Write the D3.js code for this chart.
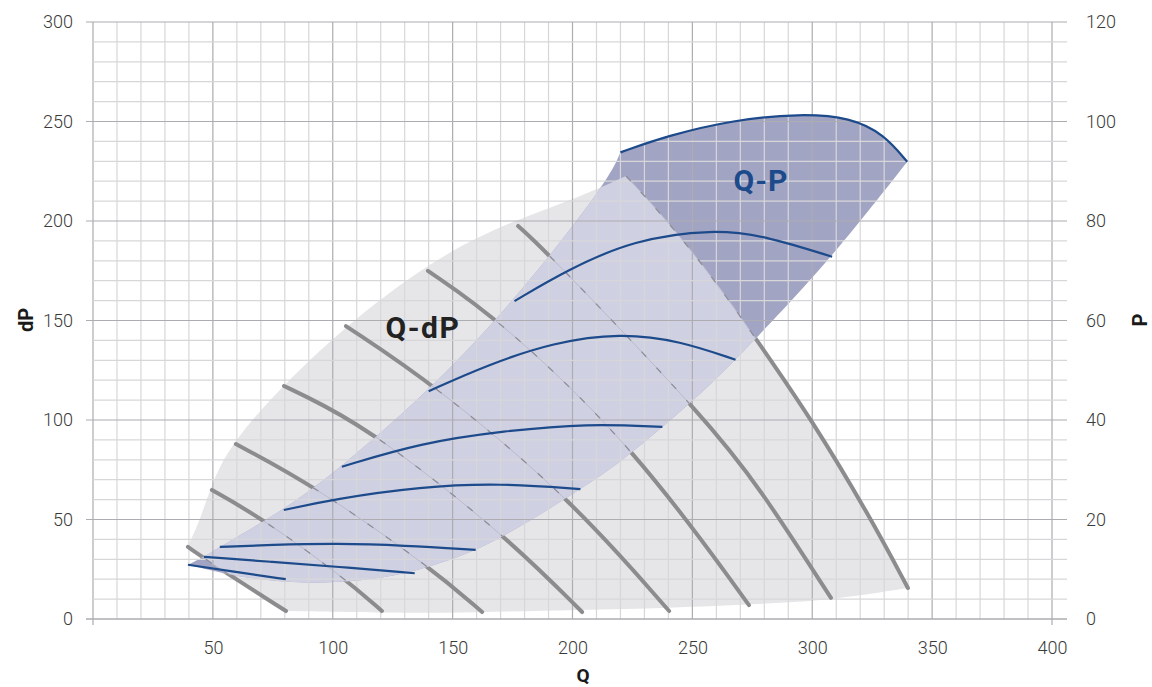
<!DOCTYPE html>
<html>
<head>
<meta charset="utf-8">
<title>Q-dP / Q-P</title>
<style>
  body { margin:0; background:#fff; }
  svg text { font-family: Roboto, "Open Sans", sans-serif; }
</style>
</head>
<body>
<div id="chart"></div>
<script src="https://cdn.jsdelivr.net/npm/d3@7"></script>
<script>
// tick labels
var qTicks  = [50, 100, 150, 200, 250, 300, 350, 400];
var dpTicks = [0, 50, 100, 150, 200, 250, 300];
var pTicks  = [0, 20, 40, 60, 80, 100, 120];

// Q-dP curves (grey), dP against left axis
var dpLinesQ = [
  [39.6, 51.7, 80.5],
  [49.6, 70.9, 104.3, 120.5],
  [59.6, 91.8, 140.6, 162.3],
  [79.7, 94.7, 119.7, 171.8, 204],
  [105.5, 142.6, 199, 240.3],
  [139.7, 169.8, 226.1, 273.6],
  [177.3, 190.6, 256.1, 278.2, 307.8],
  [222.3, 239.4, 260.3, 277.4, 299.9, 324.1, 339.9]
];
var dpLinesVal = [
  [36.2, 26.1, 4.0],
  [64.8, 50.3, 21.1, 4.0],
  [87.9, 67.3, 26.1, 3.5],
  [117.1, 108.5, 91.5, 42.2, 3.5],
  [147.2, 117.6, 60.8, 4.0],
  [174.9, 150.3, 85.9, 7.0],
  [197.5, 182.9, 100, 65.8, 10.6],
  [222.6, 200.5, 168.8, 139.2, 100, 51.3, 15.6]
];

// Q-dP envelope: upper/left edge and bottom edge
var envTopQ  = [39.6, 41.3, 44.6, 50.1, 58.4, 86.3, 119.7, 147.7, 173.9, 200.2, 222.3];
var envTopDP = [36.2, 41.2, 49.7, 69.8, 90.0, 126.6, 161.3, 184.4, 199.5, 210.6, 222.6];
var envBottomQ  = [339.9, 307.8, 278.2, 240, 203.3, 160, 120.5, 80.5];
var envBottomDP = [15.6, 9.5, 7.5, 5.5, 4.5, 3.3, 3.0, 4.0];

// Q-P curves (blue), P against right axis
var pLinesQ = [
  [220, 240, 267, 295, 316, 330, 339.6],
  [175.8, 197.9, 225.4, 258.8, 281.3, 308.3],
  [140, 164.6, 192.1, 220, 245, 268],
  [103.8, 136.7, 171.3, 206.3, 237.5],
  [79.6, 100.4, 136.7, 170, 203.3],
  [52.9, 74.2, 102, 129.6, 159.6],
  [46.3, 74.2, 102, 134.2],
  [39.6, 60.4, 80.4]
];
var pLinesVal = [
  [93.8, 97.2, 100.3, 101.6, 100.8, 97.4, 91.9],
  [63.9, 70.2, 76.2, 78.4, 76.9, 72.8],
  [45.8, 51.1, 55.6, 57.5, 55.9, 52.1],
  [30.6, 35.4, 37.8, 39.3, 38.6],
  [21.9, 24.1, 26.6, 27.3, 26.1],
  [14.5, 14.9, 15.2, 14.8, 13.9],
  [12.5, 11.5, 10.5, 9.2],
  [10.9, 9.4, 8.0]
];

// Q-P area: left edge (bottom->top) and right/bottom edge (top->bottom-left)
var qpLeftQ = [39.6, 46.3, 52.9, 79.6, 103.8, 140, 175.8, 214.6, 220];
var qpLeftP = [10.9, 12.5, 14.5, 21.9, 30.6, 45.8, 63.9, 87.8, 93.8];
var qpRightQ = [339.6, 308.3, 283.8, 268, 253, 237.5, 220, 203.3, 185, 172, 157.5, 136.7, 115.8, 95, 81.3, 60.4, 39.6];
var qpRightP = [91.9, 72.8, 60.1, 52.1, 45, 38.6, 31.5, 26.1, 20.5, 16.9, 13.3, 9.8, 7.8, 7.2, 7.4, 8.4, 10.9];

var width = 1152, height = 687;

var svg = d3.select('#chart').append('svg')
    .attr('width', width).attr('height', height);

var x  = d3.scaleLinear().domain([0, 400]).range([93, 1052]);
var yL = d3.scaleLinear().domain([0, 300]).range([619, 22]);
var yR = d3.scaleLinear().domain([0, 120]).range([619, 22]);

var curve = d3.line().curve(d3.curveBasis);
function seg(qs, vs, y){ return curve(qs.map(function(q,i){ return [x(q), y(vs[i])]; })); }
function join(parts){ return parts.map(function(p,i){ return i ? 'L' + p.slice(1) : p; }).join('') + 'Z'; }
function rev(a){ return a.slice().reverse(); }

var L1 = 0, L8 = dpLinesQ.length - 1;
var envPath = join([
  seg(envTopQ, envTopDP, yL),
  seg(dpLinesQ[L8], dpLinesVal[L8], yL),
  seg(envBottomQ, envBottomDP, yL),
  seg(rev(dpLinesQ[L1]), rev(dpLinesVal[L1]), yL)
]);
var qpPath = join([
  seg(qpLeftQ, qpLeftP, yR),
  seg(pLinesQ[0], pLinesVal[0], yR),
  seg(qpRightQ, qpRightP, yR)
]);

var defs = svg.append('defs');
defs.append('clipPath').attr('id', 'env-clip').append('path').attr('d', envPath);
defs.append('clipPath').attr('id', 'qp-clip').append('path').attr('d', qpPath);
var mask = defs.append('mask').attr('id', 'qp-out');
mask.append('rect').attr('width', width).attr('height', height).attr('fill', '#fff');
mask.append('path').attr('d', qpPath).attr('fill', '#000');

// fills
svg.append('path').attr('d', envPath).attr('fill', '#e6e6e8');
svg.append('path').attr('d', qpPath).attr('fill', '#a2a4c3');
svg.append('path').attr('d', qpPath).attr('fill', '#cfd0e2').attr('clip-path', 'url(#env-clip)');

/* grid */
var grid = svg.append('g');
grid.selectAll('.vx').data(d3.range(0, 401, 10)).enter().append('line')
    .attr('x1', d => x(d)).attr('x2', d => x(d))
    .attr('y1', yL(0)).attr('y2', yL(300))
    .attr('stroke', d => d % 50 ? '#d7d7da' : '#acacb1')
    .attr('stroke-width', 1.2);
grid.selectAll('.hy').data(d3.range(0, 301, 10)).enter().append('line')
    .attr('x1', d => d % 50 ? x(0) : x(0) - 7).attr('x2', x(400) + 15)
    .attr('y1', d => yL(d)).attr('y2', d => yL(d))
    .attr('stroke', d => d % 50 ? '#d7d7da' : '#acacb1')
    .attr('stroke-width', d => d === 0 ? 1.6 : 1.2);
// end ticks under Q=0 and Q=400
grid.selectAll('.et').data([0, 400]).enter().append('line')
    .attr('x1', d => x(d)).attr('x2', d => x(d))
    .attr('y1', yL(0)).attr('y2', yL(0) + 6)
    .attr('stroke', '#acacb1').attr('stroke-width', 1.2);

/* Q-dP curves: thick outside the Q-P area, faint dashed inside */
var thick = svg.append('g').attr('mask', 'url(#qp-out)');
thick.selectAll('path').data(dpLinesQ).enter().append('path')
    .attr('d', (d,i) => seg(d, dpLinesVal[i], yL))
    .attr('fill', 'none').attr('stroke', '#8c8c8e')
    .attr('stroke-width', 4).attr('stroke-linecap', 'round');

var faint = svg.append('g').attr('clip-path', 'url(#qp-clip)');
faint.selectAll('.s').data(dpLinesQ).enter().append('path')
    .attr('d', (d,i) => seg(d, dpLinesVal[i], yL))
    .attr('fill', 'none').attr('stroke', '#b9bacb').attr('stroke-width', 1);
faint.selectAll('.dsh').data(dpLinesQ).enter().append('path')
    .attr('d', (d,i) => seg(d, dpLinesVal[i], yL))
    .attr('fill', 'none').attr('stroke', '#8e8e98').attr('stroke-width', 1.3)
    .attr('stroke-dasharray', '7,15');

/* Q-P curves */
svg.append('g').selectAll('path').data(pLinesQ).enter().append('path')
    .attr('d', (d,i) => seg(d, pLinesVal[i], yR))
    .attr('fill', 'none').attr('stroke', '#1c4a8a').attr('stroke-width', 2.2);

/* axes labels */
function styleAxis(g){
  g.select('.domain').remove();
  g.selectAll('line').remove();
  g.selectAll('text').attr('font-size', '18px').attr('font-weight', 300).attr('fill', '#3a3a3a');
}
svg.append('g').attr('transform', 'translate(' + x(0) + ',0)')
    .call(d3.axisLeft(yL).tickValues(dpTicks).tickSize(7).tickPadding(13)).call(styleAxis);
svg.append('g').attr('transform', 'translate(' + x(400) + ',0)')
    .call(d3.axisRight(yR).tickValues(pTicks).tickSize(15).tickPadding(19)).call(styleAxis);
svg.append('g').attr('transform', 'translate(0,' + yL(0) + ')')
    .call(d3.axisBottom(x).tickValues(qTicks).tickSize(0).tickPadding(22)).call(styleAxis);

svg.append('text').attr('x', 583).attr('y', 682)
    .attr('text-anchor', 'middle').attr('font-size', '19px').attr('font-weight', 'bold').attr('fill', '#1a1a1a')
    .text('Q');
svg.append('text').attr('transform', 'translate(33,320) rotate(-90)')
    .attr('text-anchor', 'middle').attr('font-size', '20px').attr('font-weight', 'bold').attr('fill', '#1a1a1a')
    .text('dP');
svg.append('text').attr('transform', 'translate(1147,320) rotate(-90)')
    .attr('text-anchor', 'middle').attr('font-size', '20px').attr('font-weight', 'bold').attr('fill', '#1a1a1a')
    .text('P');

// region labels
svg.append('text').attr('x', x(137.6)).attr('y', yL(146.7))
    .attr('text-anchor', 'middle').attr('dominant-baseline', 'central')
    .attr('font-size', '30px').attr('font-weight', 'bold').attr('letter-spacing', '1.5px').attr('fill', '#222')
    .text('Q-dP');
svg.append('text').attr('x', x(278.6)).attr('y', yL(220.6))
    .attr('text-anchor', 'middle').attr('dominant-baseline', 'central')
    .attr('font-size', '30px').attr('font-weight', 'bold').attr('letter-spacing', '1px').attr('fill', '#1c4a8a')
    .text('Q-P');
</script>
</body>
</html>
